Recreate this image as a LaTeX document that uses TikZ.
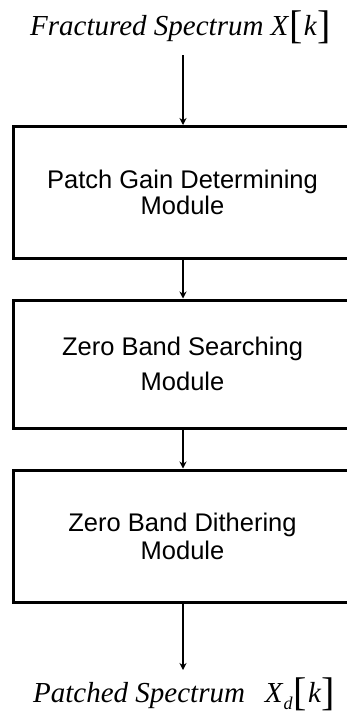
\documentclass[tikz,border=0pt]{standalone}
\usepackage{fontspec}
\setmainfont{Liberation Serif}
\setsansfont{Liberation Sans}
\usetikzlibrary{arrows.meta}
\newcommand{\lbr}{{\upshape\fontsize{40}{40}\selectfont\raisebox{-3pt}{[}}}
\newcommand{\rbr}{{\upshape\fontsize{40}{40}\selectfont\raisebox{-3pt}{]}}}
\tikzset{
  modbox/.style={draw, line width=3pt, minimum width=339pt, align=center,
    font=\sffamily\fontsize{25.5}{26}\selectfont, inner sep=0pt},
  lbl/.style={font=\itshape\fontsize{29}{30}\selectfont, inner sep=0pt},
  flow/.style={line width=2pt, -{Stealth[length=7pt,width=7pt]}}
}
\begin{document}
\begin{tikzpicture}[x=1pt,y=-1pt]
\useasboundingbox (0,0) rectangle (347,715);
\clip (0,0) rectangle (347,715);
\node[lbl, anchor=base west] (in) at (30,35) {Fractured Spectrum X\hspace{1pt}\lbr\hspace{1pt}k\hspace{1pt}\rbr};
\node[modbox, minimum height=132pt] (m1) at (182.5,192.5) {\rule[-7pt]{0pt}{7pt}Patch Gain Determining\\Module};
\node[modbox, minimum height=128pt, font=\sffamily\fontsize{25.5}{35}\selectfont] (m2) at (182.5,364) {\rule[-7pt]{0pt}{7pt}Zero Band Searching\\Module};
\node[modbox, minimum height=132pt, font=\sffamily\fontsize{25.5}{28}\selectfont] (m3) at (182.5,536) {\rule[-7pt]{0pt}{7pt}Zero Band Dithering\\Module};
\node[lbl, anchor=base west] (out) at (33,702) {Patched Spectrum\hspace{20pt}X\hspace{1pt}\raisebox{-7pt}{\fontsize{18}{18}\selectfont d}\hspace{1pt}\lbr\hspace{1pt}k\hspace{1pt}\rbr};
\coordinate (inb) at (183,55);
\coordinate (outt) at (183,670);
\draw[flow] (inb) -- (inb |- m1.north);
\draw[flow] (m1.south -| inb) -- (inb |- m2.north);
\draw[flow] (m2.south -| inb) -- (inb |- m3.north);
\draw[flow] (m3.south -| inb) -- (outt);
\end{tikzpicture}
\end{document}
